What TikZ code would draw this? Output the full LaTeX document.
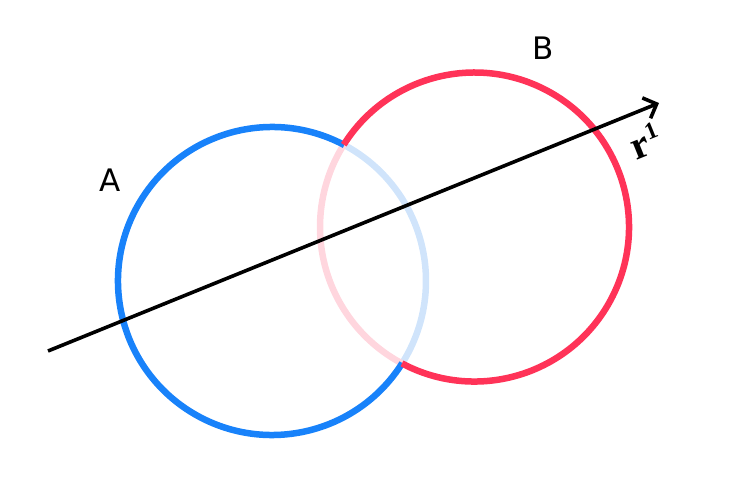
\documentclass[tikz,border=0pt]{standalone}
\usepackage{fontspec}
\setsansfont{DejaVu Sans}
\newfontfamily\rfont{Liberation Serif}
\usetikzlibrary{arrows.meta}
\definecolor{ablue}{RGB}{24,130,250}
\definecolor{ared}{RGB}{255,51,88}
\definecolor{lblue}{RGB}{208,228,251}
\definecolor{lpink}{RGB}{255,214,222}
\tikzset{
  ring/.style={line width=6.5pt},
  lbl/.style={font=\sffamily\fontsize{31}{31}\selectfont, inner sep=0pt},
  ray/.style={line width=3.6pt, -{Straight Barb[length=11pt,width=22pt,line width=3.6pt]}}
}
\begin{document}
\begin{tikzpicture}[x=1pt,y=-1pt]
\useasboundingbox (0,0) rectangle (744,496);
\coordinate (ca) at (272,281);
\coordinate (cb) at (474.5,227);
% faded parts
\draw[ring,lblue] (ca) ++(-32.2:154 and -154) arc[start angle=-32.2,end angle=62,x radius=154,y radius=-154];
\draw[ring,lpink] (cb) ++(147.8:154.5 and -154.5) arc[start angle=147.8,end angle=242,x radius=154.5,y radius=-154.5];
% solid parts
\draw[ring,ablue] (ca) ++(62:154 and -154) arc[start angle=62,end angle=327.8,x radius=154,y radius=-154];
\draw[ring,ared] (cb) ++(-118:154.5 and -154.5) arc[start angle=-118,end angle=147.8,x radius=154.5,y radius=-154.5];
% ray
\coordinate (s) at (48,351);
\coordinate (e) at (659,103);
\draw[ray] (s) -- (e);
\node[rotate=22, inner sep=0pt] (r) at (645,141) {\rfont\bfseries\fontsize{40}{40}\selectfont r\kern1pt\raisebox{0.36em}{\fontsize{24}{24}\selectfont 1}};
\node[lbl] (la) at (110,180) {A};
\node[lbl] (lb) at (543,48) {B};
\end{tikzpicture}
\end{document}
